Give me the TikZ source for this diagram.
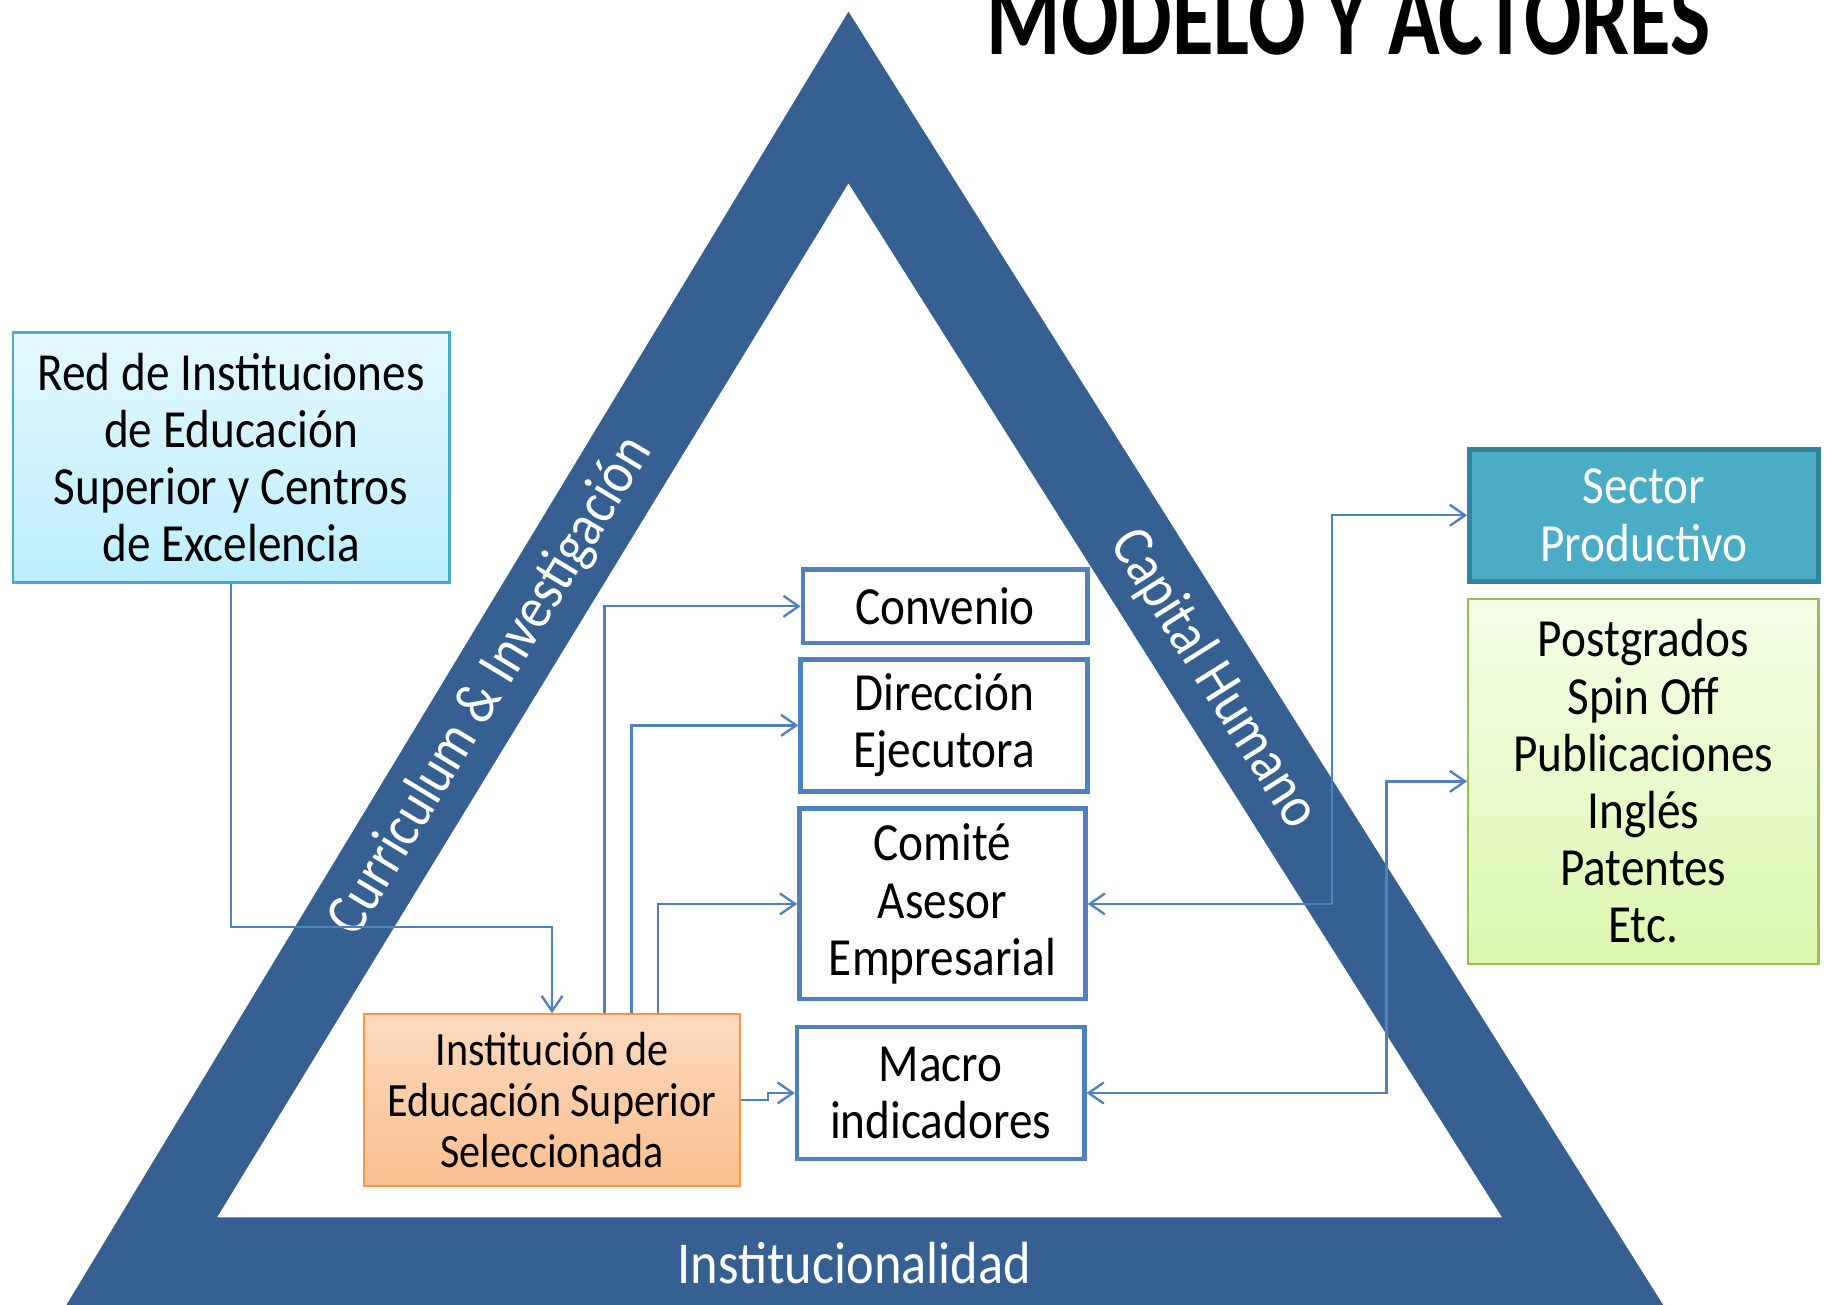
\documentclass[tikz,border=0pt]{standalone}
\usepackage{fontspec}
\setmainfont[FakeStretch=0.88]{Carlito}
\newfontfamily\titlefont{Carlito}
\usetikzlibrary{arrows.meta,calc}
\definecolor{band}{RGB}{55,96,146}
\definecolor{cblue}{RGB}{79,129,189}
\definecolor{tealb}{RGB}{75,172,198}
\definecolor{tealdark}{RGB}{49,132,155}
\definecolor{greenb}{RGB}{155,187,89}
\definecolor{orangeb}{RGB}{247,150,70}
\begin{document}
\begin{tikzpicture}[x=0.5pt,y=-0.5pt,
  conline/.style={draw=cblue, line width=1pt},
  arr/.style={-{Straight Barb[length=6.5pt,width=9pt]}},
  darr/.style={{Straight Barb[length=6.5pt,width=9pt]}-{Straight Barb[length=6.5pt,width=9pt]}},
  boxtext/.style={font=\fontsize{23pt}{24.5pt}\selectfont, align=center, inner sep=0pt},
  bluebox/.style={boxtext, draw=cblue, line width=2pt, fill=white},
  bandlabel/.style={font=\fontsize{25.5pt}{27pt}\selectfont, text=white, inner sep=0pt}]
\path[use as bounding box, clip] (0,0) rectangle (1568,1118);

% triangle band
\fill[band, even odd rule] (727,10) -- (57,1118) -- (1425,1118) -- cycle
  (727,157) -- (1287,1043) -- (186,1043) -- cycle;

% title
\node[anchor=base west, inner sep=0pt] (title) at (845,47)
  {\resizebox{310pt}{\height}{\titlefont\fontsize{48pt}{50pt}\selectfont\bfseries MODELO Y ACTORES}};

% band labels
\node[bandlabel, rotate=58.8] (curr) at (421,588) {Curriculum \& Investigación};
\node[bandlabel, rotate=-57.8] (caph) at (1040,582) {Capital Humano};
\node[bandlabel] (inst) at (732,1082) {Institucionalidad};

% boxes
\node[boxtext, draw=tealb, line width=1pt, top color={rgb,255:red,228;green,248;blue,254}, bottom color={rgb,255:red,189;green,238;blue,252},
  minimum width=187pt, minimum height=107pt] (red) at (198,392)
  {Red de Instituciones\\de Educación\\Superior y Centros\\de Excelencia};
\node[boxtext, draw=tealdark, line width=2pt, fill=tealb, text=white,
  minimum width=149.5pt, minimum height=56.5pt] (sector) at (1408.5,441.5)
  {Sector\\Productivo};
\node[boxtext, draw=greenb, line width=1pt, top color={rgb,255:red,244;green,254;blue,232}, bottom color={rgb,255:red,221;green,248;blue,176},
  minimum width=150pt, minimum height=156.5pt] (green) at (1408,669.5)
  {Postgrados\\Spin Off\\Publicaciones\\Inglés\\Patentes\\Etc.};
\node[bluebox, minimum width=122pt, minimum height=31.5pt] (conv) at (810,519.5) {Convenio};
\node[bluebox, minimum width=123pt, minimum height=56.5pt] (dir) at (809,621.5) {Dirección\\Ejecutora};
\node[bluebox, minimum width=122.5pt, minimum height=81.5pt] (comite) at (807.5,774.5) {Comité\\Asesor\\Empresarial};
\node[bluebox, minimum width=123pt, minimum height=56.5pt] (macro) at (806,936.5) {Macro\\indicadores};
\node[boxtext, font=\fontsize{20.5pt}{22pt}\selectfont, draw=orangeb, line width=1pt,
  top color={rgb,255:red,252;green,218;blue,192}, bottom color={rgb,255:red,250;green,191;blue,143},
  minimum width=161pt, minimum height=73.5pt] (ies) at (473,942.5)
  {Institución de\\Educación Superior\\Seleccionada};

% connectors
\coordinate (k1) at (473,794);
\coordinate (xa) at (518,0);
\coordinate (xb) at (541,0);
\coordinate (xc) at (564,0);
\coordinate (xs) at (1141,0);
\coordinate (xg) at (1188,0);
\draw[conline, arr] (red.south) |- (k1) -- (ies.north);
\draw[conline, arr] (ies.north -| xa) |- (conv.west);
\draw[conline, arr] (ies.north -| xb) |- (dir.west);
\draw[conline, arr] (ies.north -| xc) |- (comite.west);
\draw[conline, arr] (ies.east) -- ++(23,0) |- (macro.west);
\draw[conline, darr] (comite.east) -- (comite.east -| xs) |- (sector.west);
\draw[conline, darr] (macro.east) -- (macro.east -| xg) |- (green.west);
\end{tikzpicture}
\end{document}
